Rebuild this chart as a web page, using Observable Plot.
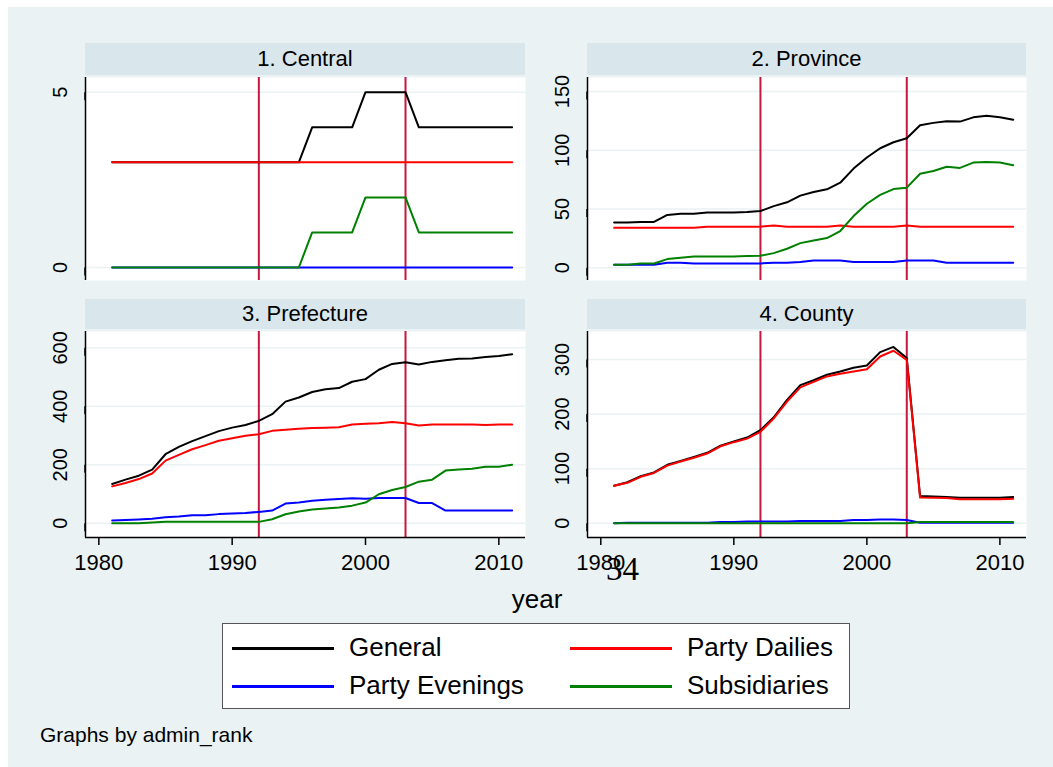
<!DOCTYPE html>
<html><head><meta charset="utf-8">
<script src="https://cdn.jsdelivr.net/npm/d3@7"></script>
<script src="https://cdn.jsdelivr.net/npm/@observablehq/plot@0.6"></script>
<style>
body{margin:0;background:#fff;}
#root{position:relative;width:1053px;height:767px;overflow:hidden;font-family:"Liberation Sans",Arial,sans-serif;color:#000;}
.bg{position:absolute;left:8px;top:7px;width:1045px;height:760px;background:#eaf2f3;}
.strip{position:absolute;background:#d9e6eb;font-size:22px;display:flex;align-items:center;justify-content:center;}
.panel{position:absolute;}
.lbl{position:absolute;white-space:nowrap;}
.legend{position:absolute;left:222px;top:623px;width:626px;height:84px;background:#fff;border:1px solid #555;}
.sample{position:absolute;height:3px;width:102px;}
</style></head>
<body><div id="root"><div class="bg"></div></div>
<script>
const years = [1981,1982,1983,1984,1985,1986,1987,1988,1989,1990,1991,1992,1993,1994,1995,1996,1997,1998,1999,2000,2001,2002,2003,2004,2005,2006,2007,2008,2009,2010,2011];
const seriesNames = ["General","Party Dailies","Party Evenings","Subsidiaries"];
const seriesColors = ["#000000","#ff0000","#0000ff","#008000"];
const panelTitles = ["1. Central","2. Province","3. Prefecture","4. County"];
const xTicks = [1980,1990,2000,2010];
const policyYears = [1992,2003];

// 1. Central
const centralGeneral = [3,3,3,3,3,3,3,3,3,3,3,3,3,3,3,4,4,4,4,5,5,5,5,4,4,4,4,4,4,4,4];
const centralDailies = [3,3,3,3,3,3,3,3,3,3,3,3,3,3,3,3,3,3,3,3,3,3,3,3,3,3,3,3,3,3,3];
const centralEvenings = [0,0,0,0,0,0,0,0,0,0,0,0,0,0,0,0,0,0,0,0,0,0,0,0,0,0,0,0,0,0,0];
const centralSubsidiaries = [0,0,0,0,0,0,0,0,0,0,0,0,0,0,0,1,1,1,1,2,2,2,2,1,1,1,1,1,1,1,1];
const centralTicks = [0,5];

// 2. Province
const provinceGeneral = [38.6,38.6,39,39,45,46,46,47,47,47,47.4,48.3,52.5,55.7,61.4,64.5,66.8,72.4,84.4,93.8,101.7,106.8,110.2,121.3,123.3,124.7,124.4,128,129.3,128,125.9];
const provinceDailies = [34,34,34,34,34,34,34,35,35,35,35,35,36,35,35,35,35,36,35,35,35,35,36,35,35,35,35,35,35,35,35];
const provinceEvenings = [2.6,2.6,2.6,2.6,4.3,4.3,3.7,3.7,3.7,3.7,3.7,3.7,4.3,4.3,5,6.2,6.2,6.2,5,5,5,5,6.2,6.2,6.2,4.3,4.3,4.3,4.3,4.3,4.3];
const provinceSubsidiaries = [2.6,2.6,3.7,3.7,7.4,8.5,9.7,9.7,9.7,9.7,10,10.2,12.5,16.2,21,23.3,25.3,31.3,44,54.5,62,67,68.2,80,82.4,86,85,89.5,90,89.5,87.2];
const provinceTicks = [0,50,100,150];

// 3. Prefecture
const prefectureGeneral = [134,149,162.5,183,236,261,281,298,315,327,336,350,373,416,430,449,458,462.5,484,493,525,545,551,543,552,558,562.5,564,569,572,578];
const prefectureDailies = [126,137.5,151,170,214,234,253,267,282,291,299,304.5,316,320,323,326,327,328,337.5,340,342,346.6,342,334,337.5,337.5,337.5,337.5,336,337.5,337.5];
const prefectureEvenings = [9,11,12.5,15,20.5,22.7,27,27,31,33,35,38.6,43,67,70.5,77,80,83,85,84,86,86,86,69,69,43,43,43,43,43,43];
const prefectureSubsidiaries = [0,0,0,2,4.5,4.5,4.5,4.5,4.5,4.5,4.5,4.5,13.6,30.7,40,46.6,50,53.4,60,70.5,99,113.6,124,142,149,180,184,186,193,193,200];
const prefectureTicks = [0,200,400,600];

// 4. County
const countyGeneral = [68.7,75,86,93,107,114,121.5,129,142,150,157,170.5,194,226,253,262,272,278,285,289,313.5,323,302.5,49.7,49,48,46.6,46.6,46.6,46.6,48];
const countyDailies = [68.7,74,85,92,105.5,113,120,127.6,141,148.5,155,167.5,192,223,249,259,269,274,278,282,305.5,316,299.4,47,46.6,46,44,44,44,44,45];
const countyEvenings = [0,1,1,1,1,1,1,1,2,2,3,3,3,3,4,4,4,4,6,6,7,7,6,1,1,1,1,1,1,1,1];
const countySubsidiaries = [0,0,0,0,0,0,0,0,0,0,0,0,0,0,0,0,0,0,0,0,0,0,0,2,2,2,2,2,2,2,2];
const countyTicks = [0,100,200,300];

const root = document.getElementById("root");
const FONT = '"Liberation Sans", Arial, sans-serif';
const xDomain = [1979, 2012];

function makePanel(cfg) {
  const mL = 55;
  const mB = cfg.bottom ? 46 : 0;
  const width = cfg.plotRight - cfg.plotLeft + mL;
  const height = cfg.plotBottom - cfg.plotTop + mB;
  const lineMarks = cfg.series.map((vals, k) =>
    Plot.line(years.map((yr, i) => ({year: yr, value: vals[i]})),
      {x: "year", y: "value", stroke: seriesColors[k], strokeWidth: 2}));
  const marks = [
    Plot.frame({fill: "white", stroke: "none"}),
    Plot.gridY(cfg.ticks, {stroke: "#eaf2f3", strokeOpacity: 1, strokeWidth: 1.5}),
    Plot.ruleX(policyYears, {stroke: "#c8163f", strokeWidth: 2}),
    ...lineMarks,
    Plot.ruleX([xDomain[0]], {stroke: "black", strokeWidth: 1.5}),
    Plot.axisY(cfg.ticks, {tickSize: 8, tickPadding: 17, rotate: -90, textAnchor: "middle", fontSize: 20, strokeWidth: 1.5, label: null})
  ];
  if (cfg.bottom) {
    marks.push(Plot.ruleY([cfg.domain[0]], {stroke: "black", strokeWidth: 1.5}));
    marks.push(Plot.axisX(xTicks, {tickSize: 8, tickPadding: 9, fontSize: 22, strokeWidth: 1.5, tickFormat: d => String(d), label: null}));
  } else {
    marks.push(Plot.axisX([], {label: null}));
  }
  const svg = Plot.plot({
    width, height,
    marginLeft: mL, marginRight: 0, marginTop: 0, marginBottom: mB,
    x: {domain: xDomain, label: null},
    y: {domain: cfg.domain, label: null},
    style: {background: "transparent", overflow: "visible", fontFamily: FONT, color: "black"},
    marks
  });
  const wrap = document.createElement("div");
  wrap.className = "panel";
  wrap.style.left = (cfg.plotLeft - mL) + "px";
  wrap.style.top = cfg.plotTop + "px";
  wrap.appendChild(svg);
  root.appendChild(wrap);

  const strip = document.createElement("div");
  strip.className = "strip";
  strip.style.left = cfg.plotLeft + "px";
  strip.style.top = cfg.stripTop + "px";
  strip.style.width = (cfg.plotRight - cfg.plotLeft) + "px";
  strip.style.height = (cfg.plotTop - 2 - cfg.stripTop) + "px";
  strip.textContent = cfg.title;
  root.appendChild(strip);
}

makePanel({title: panelTitles[0], plotLeft: 85, plotRight: 525, plotTop: 77, plotBottom: 280, stripTop: 43,
  domain: [-0.371, 5.42], ticks: centralTicks, bottom: false,
  series: [centralGeneral, centralDailies, centralEvenings, centralSubsidiaries]});
makePanel({title: panelTitles[1], plotLeft: 587, plotRight: 1026, plotTop: 77, plotBottom: 280, stripTop: 43,
  domain: [-10.8, 161.9], ticks: provinceTicks, bottom: false,
  series: [provinceGeneral, provinceDailies, provinceEvenings, provinceSubsidiaries]});
makePanel({title: panelTitles[2], plotLeft: 85, plotRight: 525, plotTop: 331, plotBottom: 537, stripTop: 299,
  domain: [-49, 656], ticks: prefectureTicks, bottom: true,
  series: [prefectureGeneral, prefectureDailies, prefectureEvenings, prefectureSubsidiaries]});
makePanel({title: panelTitles[3], plotLeft: 587, plotRight: 1026, plotTop: 331, plotBottom: 537, stripTop: 299,
  domain: [-26.2, 351.3], ticks: countyTicks, bottom: true,
  series: [countyGeneral, countyDailies, countyEvenings, countySubsidiaries]});

function addLabel(text, left, top, size, extra) {
  const d = document.createElement("div");
  d.className = "lbl";
  d.textContent = text;
  d.style.left = left + "px";
  d.style.top = top + "px";
  d.style.fontSize = size + "px";
  d.style.lineHeight = "1";
  if (extra) Object.assign(d.style, extra);
  root.appendChild(d);
  return d;
}

// page number artifact
addLabel("34", 606, 553, 33, {fontFamily: '"Liberation Serif", "DejaVu Serif", serif'});
// x-axis title
addLabel("year", 537, 586, 26, {transform: "translateX(-50%)"});
// legend
const leg = document.createElement("div");
leg.className = "legend";
root.appendChild(leg);
const legPos = [[232, 648], [570, 648], [232, 686], [570, 686]];
const legOrder = [0, 1, 2, 3];
legOrder.forEach((k, j) => {
  const [lx, ly] = legPos[j];
  const s = document.createElement("div");
  s.className = "sample";
  s.style.left = lx + "px";
  s.style.top = (ly - 1.5) + "px";
  s.style.background = seriesColors[k];
  root.appendChild(s);
  addLabel(seriesNames[k], lx + 117, ly - 14, 26);
});
// note
addLabel("Graphs by admin_rank", 40, 724, 21);
</script>
</body></html>
